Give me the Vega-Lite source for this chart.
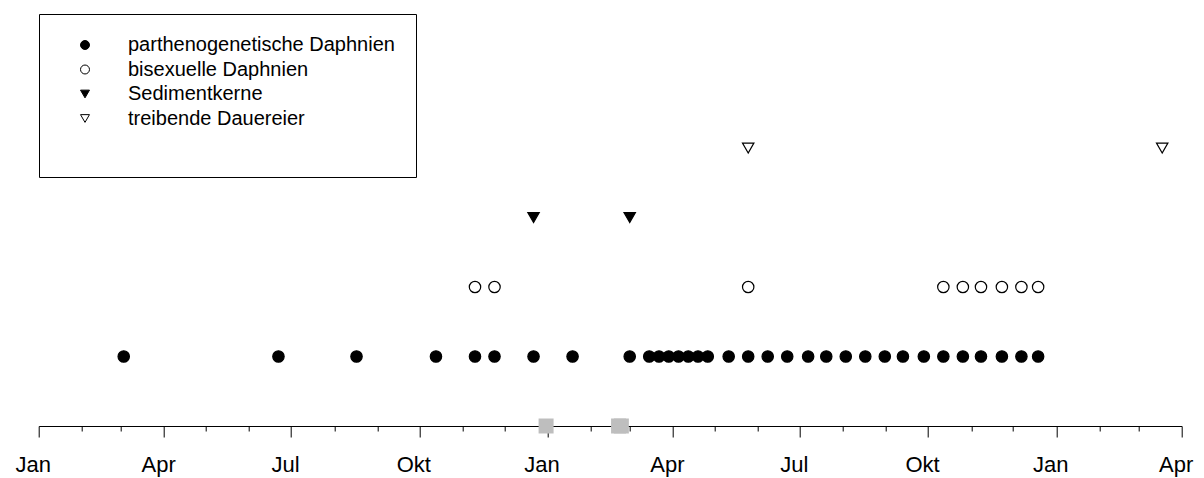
{
  "$schema": "https://vega.github.io/schema/vega-lite/v6.json",
  "width": 1143,
  "height": 278,
  "autosize": {"type": "none"},
  "padding": {"left": 38.7, "top": 148, "right": 22.3, "bottom": 52},
  "background": "white",
  "config": {
    "view": {"stroke": null},
    "font": "Liberation Sans",
    "legend": {
      "orient": "none",
      "legendX": 0.3,
      "legendY": -134,
      "strokeColor": "black",
      "padding": 21,
      "symbolOffset": 15,
      "labelOffset": 33,
      "labelFont": "Liberation Sans",
      "labelFontSize": 20,
      "labelColor": "black",
      "labelLimit": 500,
      "symbolSize": 80,
      "symbolStrokeWidth": 1,
      "rowPadding": 4.5,
      "titleOrient": "bottom",
      "titleFontSize": 20,
      "titlePadding": 7
    }
  },
  "datasets": {
    "proben": [
      {"datum": "2001-12-31", "stufe": 0},
      {"datum": "2002-02-21", "stufe": 0},
      {"datum": "2002-02-23", "stufe": 0}
    ],
    "obs": [
      {"datum": "2001-03-03", "typ": "parthenogenetische Daphnien", "stufe": 1},
      {"datum": "2001-06-22", "typ": "parthenogenetische Daphnien", "stufe": 1},
      {"datum": "2001-08-17", "typ": "parthenogenetische Daphnien", "stufe": 1},
      {"datum": "2001-10-13", "typ": "parthenogenetische Daphnien", "stufe": 1},
      {"datum": "2001-11-10", "typ": "parthenogenetische Daphnien", "stufe": 1},
      {"datum": "2001-11-24", "typ": "parthenogenetische Daphnien", "stufe": 1},
      {"datum": "2001-12-22", "typ": "parthenogenetische Daphnien", "stufe": 1},
      {"datum": "2002-01-19", "typ": "parthenogenetische Daphnien", "stufe": 1},
      {"datum": "2002-03-01", "typ": "parthenogenetische Daphnien", "stufe": 1},
      {"datum": "2002-03-15", "typ": "parthenogenetische Daphnien", "stufe": 1},
      {"datum": "2002-03-22", "typ": "parthenogenetische Daphnien", "stufe": 1},
      {"datum": "2002-03-29", "typ": "parthenogenetische Daphnien", "stufe": 1},
      {"datum": "2002-04-05", "typ": "parthenogenetische Daphnien", "stufe": 1},
      {"datum": "2002-04-12", "typ": "parthenogenetische Daphnien", "stufe": 1},
      {"datum": "2002-04-19", "typ": "parthenogenetische Daphnien", "stufe": 1},
      {"datum": "2002-04-26", "typ": "parthenogenetische Daphnien", "stufe": 1},
      {"datum": "2002-05-11", "typ": "parthenogenetische Daphnien", "stufe": 1},
      {"datum": "2002-05-25", "typ": "parthenogenetische Daphnien", "stufe": 1},
      {"datum": "2002-06-08", "typ": "parthenogenetische Daphnien", "stufe": 1},
      {"datum": "2002-06-22", "typ": "parthenogenetische Daphnien", "stufe": 1},
      {"datum": "2002-07-07", "typ": "parthenogenetische Daphnien", "stufe": 1},
      {"datum": "2002-07-20", "typ": "parthenogenetische Daphnien", "stufe": 1},
      {"datum": "2002-08-03", "typ": "parthenogenetische Daphnien", "stufe": 1},
      {"datum": "2002-08-17", "typ": "parthenogenetische Daphnien", "stufe": 1},
      {"datum": "2002-08-31", "typ": "parthenogenetische Daphnien", "stufe": 1},
      {"datum": "2002-09-13", "typ": "parthenogenetische Daphnien", "stufe": 1},
      {"datum": "2002-09-28", "typ": "parthenogenetische Daphnien", "stufe": 1},
      {"datum": "2002-10-12", "typ": "parthenogenetische Daphnien", "stufe": 1},
      {"datum": "2002-10-26", "typ": "parthenogenetische Daphnien", "stufe": 1},
      {"datum": "2002-11-08", "typ": "parthenogenetische Daphnien", "stufe": 1},
      {"datum": "2002-11-23", "typ": "parthenogenetische Daphnien", "stufe": 1},
      {"datum": "2002-12-07", "typ": "parthenogenetische Daphnien", "stufe": 1},
      {"datum": "2002-12-19", "typ": "parthenogenetische Daphnien", "stufe": 1},
      {"datum": "2001-11-10", "typ": "bisexuelle Daphnien", "stufe": 2},
      {"datum": "2001-11-24", "typ": "bisexuelle Daphnien", "stufe": 2},
      {"datum": "2002-05-25", "typ": "bisexuelle Daphnien", "stufe": 2},
      {"datum": "2002-10-12", "typ": "bisexuelle Daphnien", "stufe": 2},
      {"datum": "2002-10-26", "typ": "bisexuelle Daphnien", "stufe": 2},
      {"datum": "2002-11-08", "typ": "bisexuelle Daphnien", "stufe": 2},
      {"datum": "2002-11-23", "typ": "bisexuelle Daphnien", "stufe": 2},
      {"datum": "2002-12-07", "typ": "bisexuelle Daphnien", "stufe": 2},
      {"datum": "2002-12-19", "typ": "bisexuelle Daphnien", "stufe": 2},
      {"datum": "2001-12-22", "typ": "Sedimentkerne", "stufe": 3},
      {"datum": "2002-03-01", "typ": "Sedimentkerne", "stufe": 3},
      {"datum": "2002-05-25", "typ": "treibende Dauereier", "stufe": 4},
      {"datum": "2003-03-18", "typ": "treibende Dauereier", "stufe": 4}
    ]
  },
  "encoding": {
    "x": {
      "field": "datum",
      "type": "temporal",
      "title": null,
      "scale": {
        "type": "utc",
        "domain": [
          {"year": 2001, "month": 1, "date": 1, "utc": true},
          {"year": 2003, "month": 4, "date": 1, "utc": true}
        ]
      },
      "axis": {
        "tickCount": {"interval": "month", "step": 1},
        "grid": false,
        "domainColor": "black",
        "domainWidth": 1,
        "tickColor": "black",
        "tickWidth": 1,
        "tickSize": {"condition": {"test": "utcmonth(datum.value) % 3 === 0", "value": 11}, "value": 5},
        "labelExpr": "utcmonth(datum.value) % 3 === 0 ? ['Jan','Apr','Jul','Okt'][floor(utcmonth(datum.value) / 3)] : ''",
        "labelFont": "Liberation Sans",
        "labelFontSize": 22,
        "labelColor": "black",
        "labelPadding": 17,
        "labelOffset": -6,
        "labelFlush": false,
        "labelOverlap": false,
        "labelBound": false
      }
    },
    "y": {
      "field": "stufe",
      "type": "quantitative",
      "scale": {"domain": [0, 4]},
      "axis": null
    }
  },
  "layer": [
    {
      "data": {"name": "proben"},
      "mark": {"type": "square", "size": 225, "color": "#bebebe", "opacity": 1, "filled": true}
    },
    {
      "data": {"name": "obs"},
      "mark": {"type": "point", "filled": true, "size": 130, "strokeWidth": 1.2, "opacity": 1},
      "encoding": {
        "shape": {
          "field": "typ",
          "type": "nominal",
          "title": " ",
          "scale": {
            "domain": ["parthenogenetische Daphnien", "bisexuelle Daphnien", "Sedimentkerne", "treibende Dauereier"],
            "range": ["circle", "circle", "triangle-down", "triangle-down"]
          }
        },
        "fill": {
          "field": "typ",
          "type": "nominal",
          "title": " ",
          "scale": {
            "domain": ["parthenogenetische Daphnien", "bisexuelle Daphnien", "Sedimentkerne", "treibende Dauereier"],
            "range": ["black", "white", "black", "white"]
          }
        },
        "stroke": {
          "field": "typ",
          "type": "nominal",
          "title": " ",
          "scale": {
            "domain": ["parthenogenetische Daphnien", "bisexuelle Daphnien", "Sedimentkerne", "treibende Dauereier"],
            "range": ["black", "black", "black", "black"]
          }
        }
      }
    }
  ]
}
